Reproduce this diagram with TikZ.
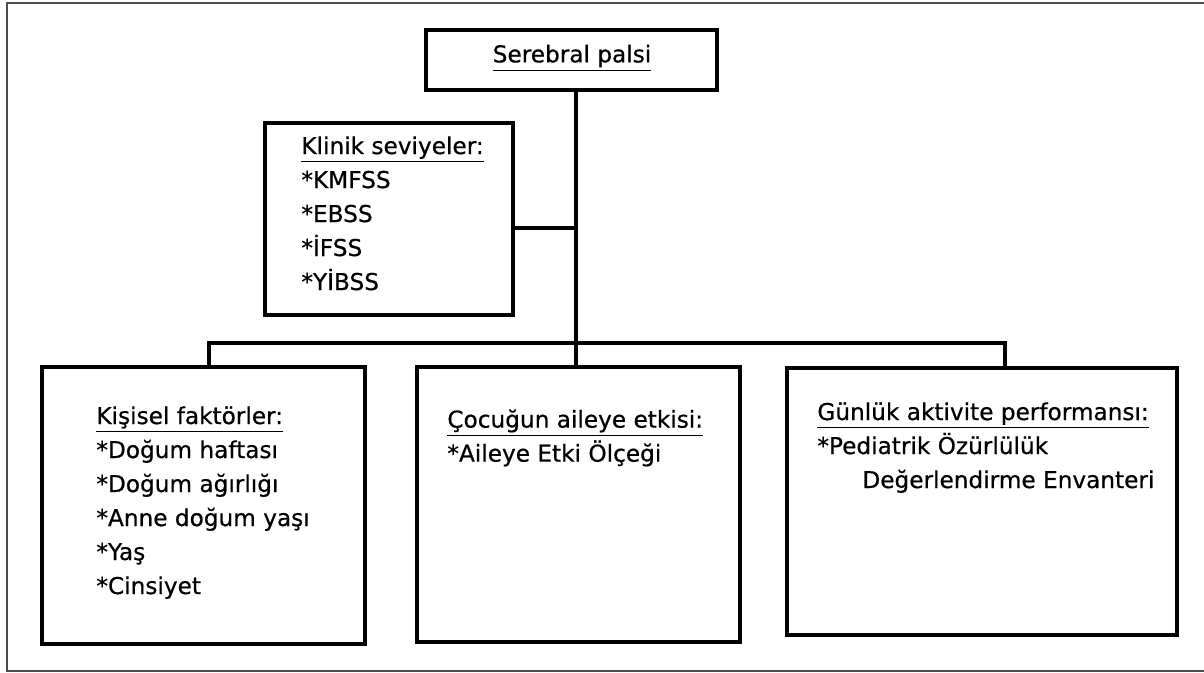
\documentclass[tikz,border=0pt]{standalone}
\usepackage{fontspec}
\setmainfont{DejaVu Sans}[BoldFont={DejaVu Sans}, BoldFeatures={FakeBold=0.6}]
\usetikzlibrary{positioning}

% one pixel of the layout
\def\unitpx{0.5pt}
\def\linew{1.9pt}
\def\lineskipsize{17pt}

\tikzset{
  box/.style={draw, line width=\linew, inner sep=0pt, outer sep=0pt},
  boxtext/.style={anchor=north west, inner sep=0pt, align=left,
    font=\fontsize{11.6}{\lineskipsize}\selectfont\bfseries},
  wire/.style={line width=\linew},
}
\newcommand{\head}[1]{\underline{#1}}

\begin{document}
\begin{tikzpicture}[x=\unitpx, y=-\unitpx]

\useasboundingbox (0,0) rectangle (1204,673);

% outer frame
\draw[line width=0.8pt, black!70] (1204,3) -- (7,3) -- (7,671) -- (1204,671);

% Draw the boxes
\node[box, minimum width=291*\unitpx, minimum height=60*\unitpx] (serebral) at (571.5,60) {};
\node[box, minimum width=248*\unitpx, minimum height=192*\unitpx] (klinik) at (389,219) {};
\node[box, minimum width=323*\unitpx, minimum height=277*\unitpx] (kisisel) at (203.5,505.5) {};
\node[box, minimum width=323*\unitpx, minimum height=275*\unitpx] (cocuk) at (578.5,504.5) {};
\node[box, minimum width=390*\unitpx, minimum height=267*\unitpx] (gunluk) at (982,501.5) {};

% texts in the boxes
\node[font=\fontsize{11.6}{\lineskipsize}\selectfont\bfseries] (serebraltext) at (572,58) {\head{Serebral palsi}};

\node[boxtext] (klinikmetin) at (301,136) {\head{Klinik seviyeler:}\\*KMFSS\\*EBSS\\*İFSS\\*YİBSS};

\node[boxtext] (kisiselmetin) at (96,406) {\head{Kişisel faktörler:}\\*Doğum haftası\\*Doğum ağırlığı\\*Anne doğum yaşı\\*Yaş\\*Cinsiyet};

\node[boxtext] (cocukmetin) at (447,409) {\head{Çocuğun aileye etkisi:}\\*Aileye Etki Ölçeği};

\node[boxtext] (gunlukmetin) at (817,402) {\head{Günlük aktivite performansı:}\\*Pediatrik Özürlülük\\\hspace*{22.5pt}Değerlendirme Envanteri};

% connectors
\coordinate (spine) at (576,343);
\coordinate (busL) at (209,343);
\coordinate (busR) at (1005,343);
\coordinate (kjoin) at (576,228);

\draw[wire] (spine |- serebral.south) -- (spine |- cocuk.north);
\draw[wire] (kjoin -| klinik.east) -- (kjoin);
\draw[wire] (busL |- kisisel.north) -- (busL) -- (busR) -- (busR |- gunluk.north);

\end{tikzpicture}
\end{document}
